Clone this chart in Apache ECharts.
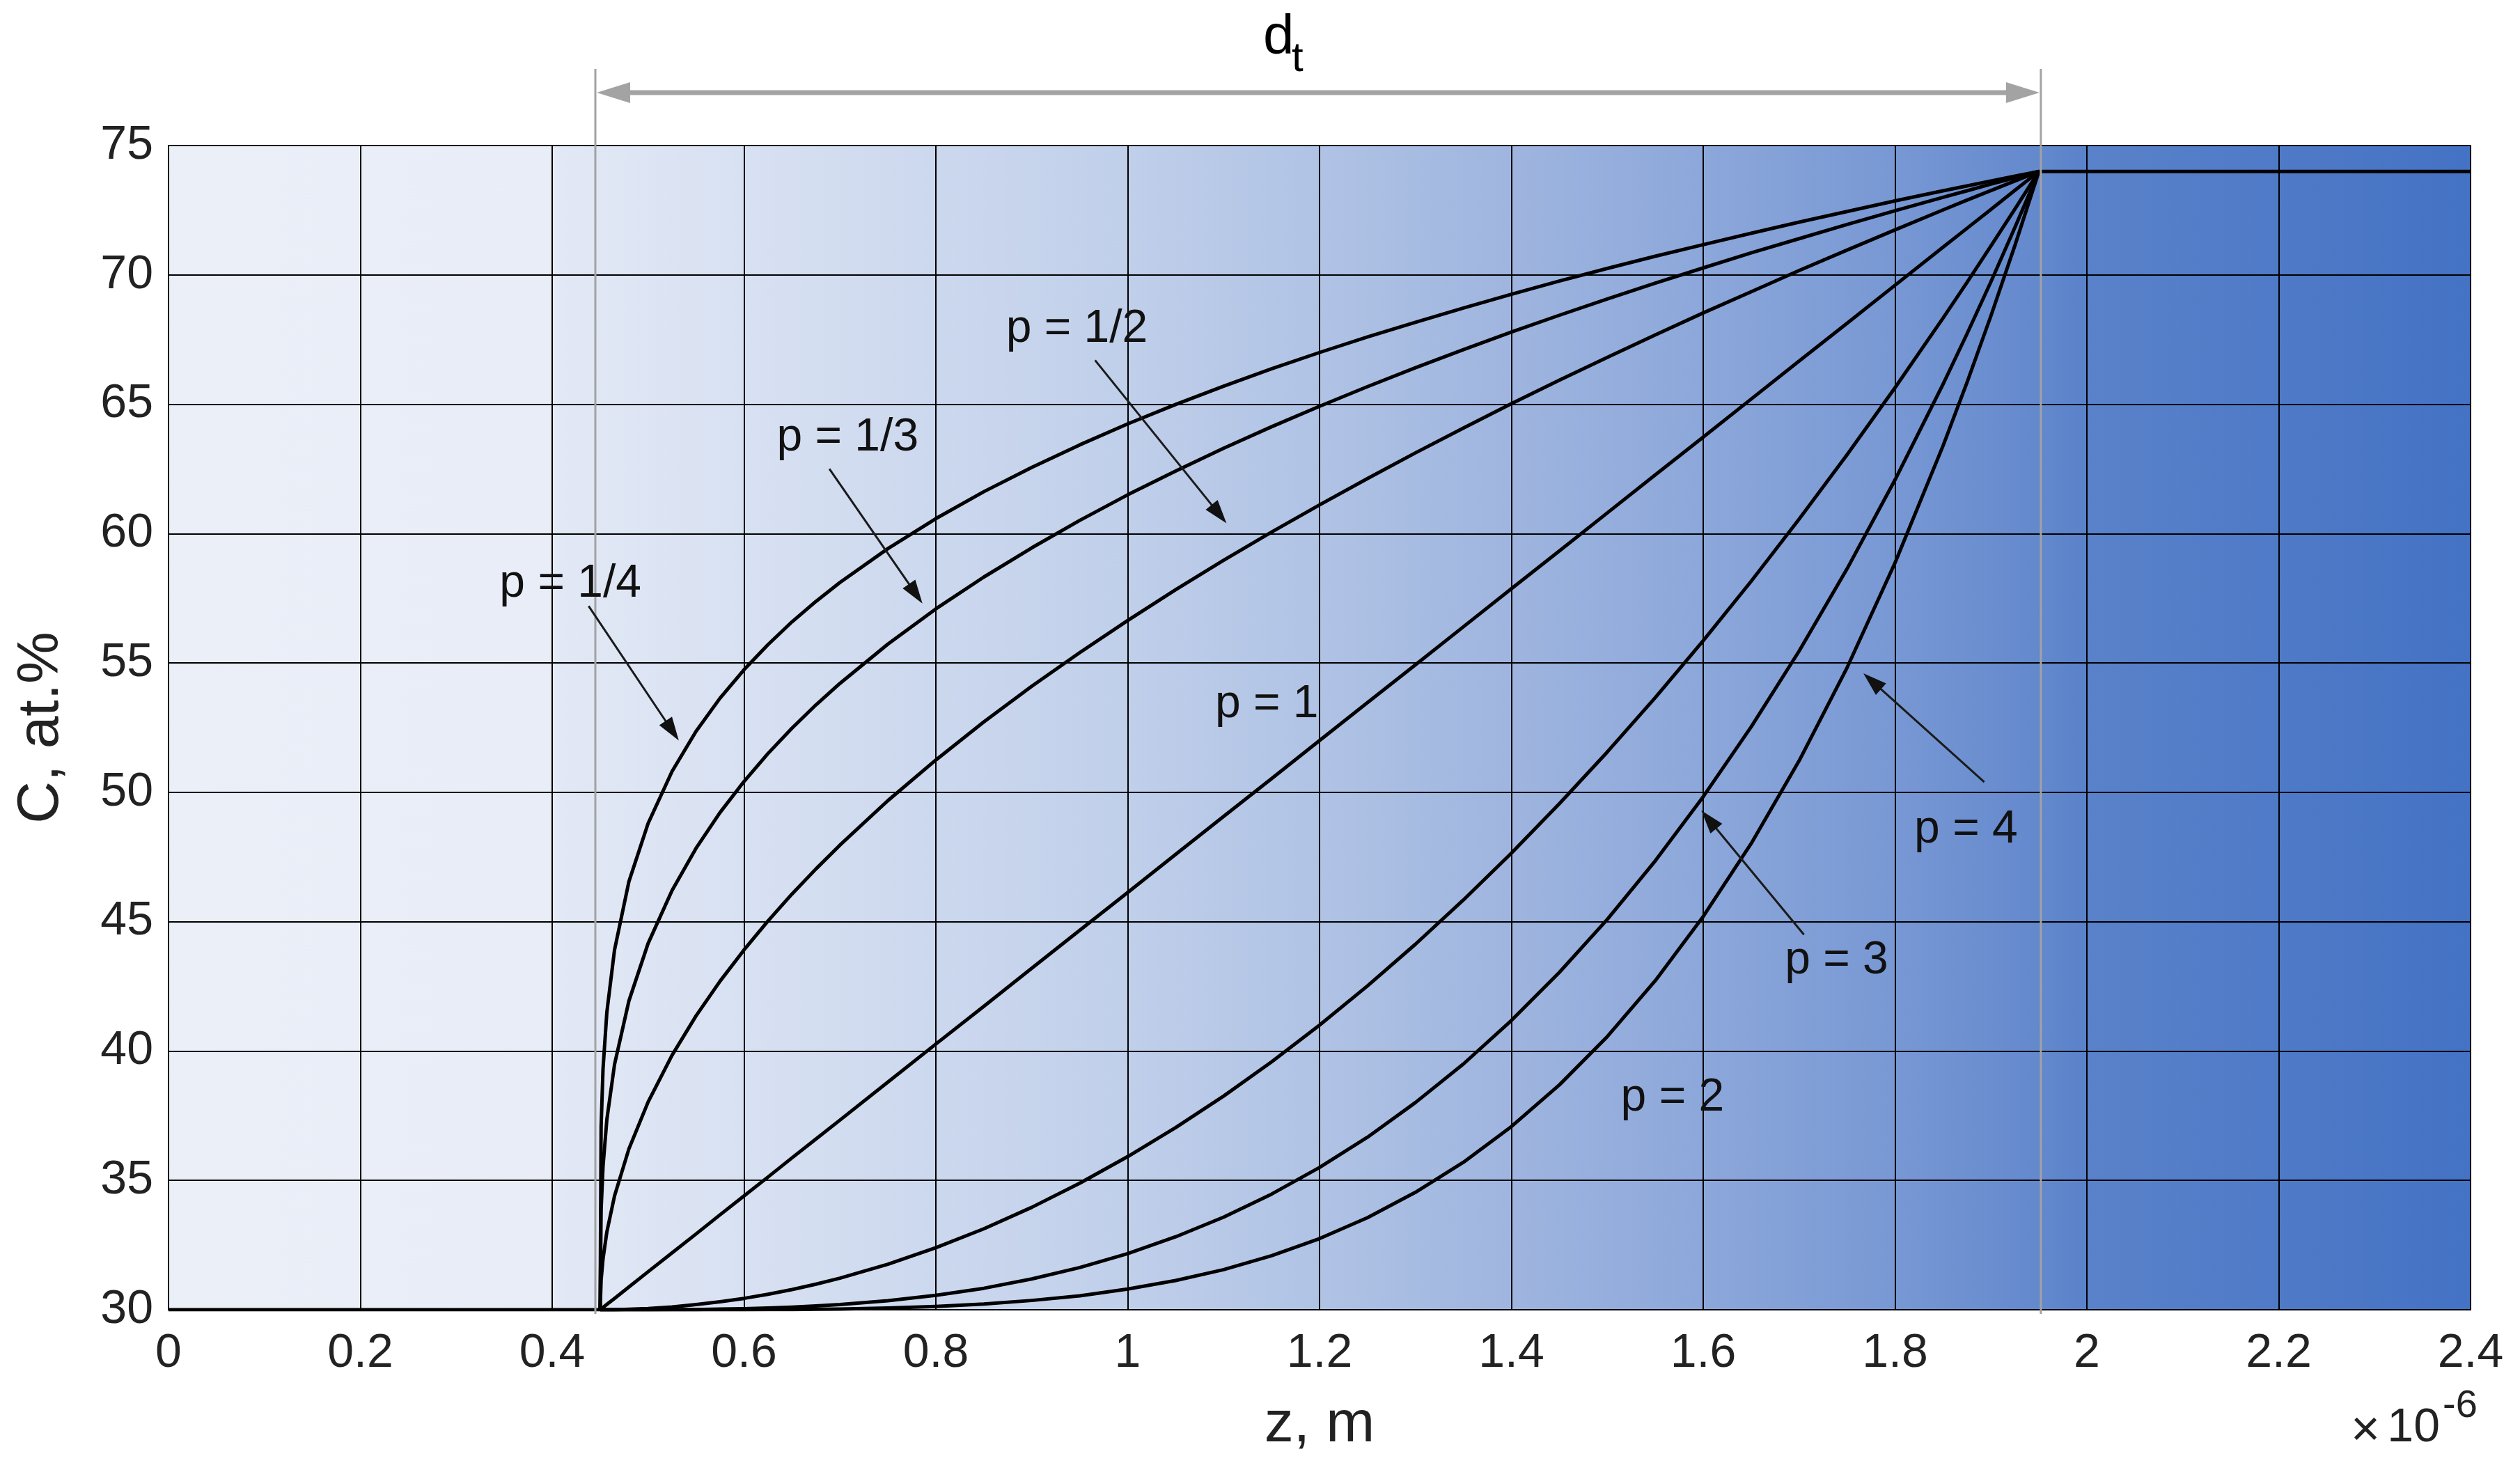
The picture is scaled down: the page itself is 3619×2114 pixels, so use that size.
<!DOCTYPE html>
<html>
<head>
<meta charset="utf-8">
<script src="https://cdn.jsdelivr.net/npm/echarts@6/dist/echarts.min.js"></script>
<style>
  html, body { margin: 0; padding: 0; background: #fff; }
  #chart { width: 3619px; height: 2114px; }
</style>
</head>
<body>
<div id="chart"></div>
<script>
const zSamples = [0.45, 0.451, 0.453, 0.457, 0.465, 0.48, 0.5, 0.525, 0.55, 0.575, 0.6, 0.625, 0.65, 0.675, 0.7,
  0.75, 0.8, 0.85, 0.9, 0.95, 1.0, 1.05, 1.1, 1.15, 1.2, 1.25, 1.3, 1.35, 1.4, 1.45, 1.5, 1.55, 1.6, 1.65, 1.7,
  1.75, 1.8, 1.85, 1.875, 1.9, 1.925, 1.95];

// C, at.% for each exponent p
const cP14 = [30, 37.07, 39.31, 41.50, 43.91, 46.55, 48.80, 50.81, 52.36, 53.64, 54.74, 55.71, 56.59, 57.38, 58.11,
  59.42, 60.58, 61.62, 62.56, 63.43, 64.24, 64.99, 65.70, 66.37, 67.00, 67.60, 68.17, 68.72, 69.25, 69.76, 70.25,
  70.72, 71.17, 71.61, 72.04, 72.45, 72.86, 73.25, 73.44, 73.63, 73.82, 74];
const cP13 = [30, 33.85, 35.54, 37.35, 39.48, 41.94, 44.16, 46.21, 47.84, 49.22, 50.42, 51.50, 52.48, 53.38, 54.21,
  55.73, 57.09, 58.32, 59.45, 60.51, 61.50, 62.42, 63.30, 64.13, 64.92, 65.68, 66.41, 67.11, 67.79, 68.44, 69.07,
  69.68, 70.27, 70.85, 71.40, 71.95, 72.48, 73.00, 73.25, 73.51, 73.75, 74];
const cP12 = [30, 31.14, 31.97, 33.01, 34.40, 36.22, 38.03, 39.84, 41.36, 42.70, 43.91, 45.03, 46.07, 47.04, 47.96,
  49.68, 51.25, 52.72, 54.10, 55.40, 56.64, 57.83, 58.97, 60.06, 61.11, 62.13, 63.12, 64.08, 65.02, 65.93, 66.81,
  67.68, 68.53, 69.35, 70.17, 70.96, 71.74, 72.51, 72.89, 73.26, 73.63, 74];
const cP1 = [30, 30.03, 30.09, 30.21, 30.44, 30.88, 31.47, 32.20, 32.93, 33.67, 34.40, 35.13, 35.87, 36.60, 37.33,
  38.80, 40.27, 41.73, 43.20, 44.67, 46.13, 47.60, 49.07, 50.53, 52.00, 53.47, 54.93, 56.40, 57.87, 59.33, 60.80,
  62.27, 63.73, 65.20, 66.67, 68.13, 69.60, 71.07, 71.80, 72.53, 73.27, 74];
const cP2 = [30, 30, 30, 30, 30, 30.02, 30.05, 30.11, 30.20, 30.31, 30.44, 30.60, 30.78, 30.99, 31.22,
  31.76, 32.40, 33.13, 33.96, 34.89, 35.92, 37.04, 38.26, 39.58, 41.00, 42.52, 44.13, 45.84, 47.65, 49.56, 51.56,
  53.66, 55.86, 58.16, 60.56, 63.05, 65.64, 68.33, 69.71, 71.12, 72.55, 74];
const cP3 = [30, 30, 30, 30, 30, 30, 30, 30.01, 30.01, 30.03, 30.04, 30.07, 30.10, 30.15, 30.20,
  30.35, 30.56, 30.83, 31.19, 31.63, 32.17, 32.82, 33.58, 34.47, 35.50, 36.67, 38.01, 39.50, 41.18, 43.04, 45.09,
  47.35, 49.83, 52.53, 55.46, 58.64, 62.08, 65.77, 67.72, 69.74, 71.84, 74];
const cP4 = [30, 30, 30, 30, 30, 30, 30, 30, 30, 30.00, 30.00, 30.01, 30.01, 30.02, 30.03,
  30.07, 30.13, 30.22, 30.36, 30.54, 30.80, 31.13, 31.55, 32.09, 32.75, 33.56, 34.54, 35.70, 37.08, 38.69, 40.56,
  42.72, 45.20, 48.02, 51.22, 54.82, 58.87, 63.39, 65.84, 68.42, 71.14, 74];

// flat parts: substrate before the layer, coating after it
const substrateZ = [0, 0.45];
const substrateC = [30, 30];
const coatingZ = [1.95, 2.4];
const coatingC = [74, 74];

// layer thickness d_t marks
const dtStart = 0.445;
const dtEnd = 1.952;

const labelText = ['p = 1/4', 'p = 1/3', 'p = 1/2', 'p = 1', 'p = 2', 'p = 3', 'p = 4'];
// text centre, arrow tail and arrow tip in data units
const labelAt = [[0.419, 58.05], [0.708, 63.7], [0.947, 67.9], [1.145, 53.4], [1.568, 38.2], [1.739, 43.5], [1.874, 48.55]];
const arrowFrom = [[0.438, 57.2], [0.689, 62.5], [0.966, 66.7], null, null, [1.705, 44.5], [1.893, 50.4]];
const arrowTo = [[0.532, 52.0], [0.786, 57.3], [1.103, 60.4], null, null, [1.598, 49.3], [1.767, 54.6]];

const font = "'Liberation Sans', Arial, Helvetica, sans-serif";
const curves = [cP14, cP13, cP12, cP1, cP2, cP3, cP4];

const chart = echarts.init(document.getElementById('chart'));

const lineStyle = { color: '#000', width: 5, join: 'round' };
const series = curves.map((ys, i) => ({
  name: labelText[i],
  type: 'line',
  data: zSamples.map((z, k) => [z, ys[k]]),
  symbol: 'none',
  smooth: false,
  lineStyle: lineStyle,
  silent: true,
  z: 5
}));
series.push({
  type: 'line', data: substrateZ.map((z, k) => [z, substrateC[k]]),
  symbol: 'none', lineStyle: lineStyle, silent: true, z: 5
});
series.push({
  type: 'line', data: coatingZ.map((z, k) => [z, coatingC[k]]),
  symbol: 'none', lineStyle: lineStyle, silent: true, z: 5
});

const option = {
  animation: false,
  backgroundColor: '#fff',
  grid: {
    left: 242, top: 209, right: 71, bottom: 233,
    show: true,
    borderColor: '#000',
    borderWidth: 2,
    backgroundColor: new echarts.graphic.LinearGradient(0, 0, 1, 0, [
      { offset: 0, color: '#eaeff8' },
      { offset: 0.166, color: '#e8edf7' },
      { offset: 0.17, color: '#e2e8f5' },
      { offset: 0.25, color: '#d8e1f2' },
      { offset: 0.417, color: '#c0cfea' },
      { offset: 0.5, color: '#b0c3e5' },
      { offset: 0.583, color: '#9fb5df' },
      { offset: 0.667, color: '#8ca7da' },
      { offset: 0.75, color: '#7898d4' },
      { offset: 0.81, color: '#6489cd' },
      { offset: 0.833, color: '#5a82ca' },
      { offset: 1, color: '#4472c4' }
    ])
  },
  xAxis: {
    type: 'value',
    min: 0, max: 2.4, interval: 0.2,
    name: 'z, m',
    nameLocation: 'middle',
    nameGap: 124,
    nameTextStyle: { fontFamily: font, fontSize: 84, color: '#222' },
    axisLine: { show: true, lineStyle: { color: '#000', width: 2 } },
    axisTick: { show: false },
    splitLine: { show: true, lineStyle: { color: '#000', width: 2 } },
    axisLabel: { fontFamily: font, fontSize: 68, color: '#222', margin: 29, showMinLabel: true, showMaxLabel: true }
  },
  yAxis: {
    type: 'value',
    min: 30, max: 75, interval: 5,
    name: 'C, at.%',
    nameLocation: 'middle',
    nameGap: 140,
    nameRotate: 90,
    nameTextStyle: { fontFamily: font, fontSize: 84, color: '#222' },
    axisLine: { show: true, lineStyle: { color: '#000', width: 2 } },
    axisTick: { show: false },
    splitLine: { show: true, lineStyle: { color: '#000', width: 2 } },
    axisLabel: { fontFamily: font, fontSize: 68, color: '#222', margin: 22 }
  },
  series: series
};

chart.setOption(option);

// overlay: d_t dimension arrow, annotations, axis multiplier
const px = p => chart.convertToPixel({ gridIndex: 0 }, p);

function head(tip, tail, len, half) {
  const dx = tip[0] - tail[0], dy = tip[1] - tail[1];
  const d = Math.sqrt(dx * dx + dy * dy);
  const ux = dx / d, uy = dy / d;
  const bx = tip[0] - ux * len, by = tip[1] - uy * len;
  return [[tip[0], tip[1]], [bx - uy * half, by + ux * half], [bx + uy * half, by - ux * half]];
}

const gfx = [];
const gray = '#a3a3a3';
const xa = px([dtStart, 30])[0];
const xb = px([dtEnd, 30])[0];
const arrowY = 133;
[xa, xb].forEach(x => {
  gfx.push({ type: 'line', z: 50, shape: { x1: x, y1: 99, x2: x, y2: 1887 }, style: { stroke: gray, lineWidth: 3 } });
});
gfx.push({ type: 'line', z: 50, shape: { x1: xa + 40, y1: arrowY, x2: xb - 40, y2: arrowY }, style: { stroke: gray, lineWidth: 7 } });
gfx.push({ type: 'polygon', z: 50, shape: { points: head([xa + 2, arrowY], [xb, arrowY], 48, 15) }, style: { fill: gray } });
gfx.push({ type: 'polygon', z: 50, shape: { points: head([xb - 2, arrowY], [xa, arrowY], 48, 15) }, style: { fill: gray } });
gfx.push({ type: 'text', z: 50, x: 1814, y: 55, style: { text: 'd', font: '80px ' + font, fill: '#000', align: 'left', verticalAlign: 'middle' } });
gfx.push({ type: 'text', z: 50, x: 1855, y: 85, style: { text: 't', font: '60px ' + font, fill: '#000', align: 'left', verticalAlign: 'middle' } });

labelText.forEach((t, i) => {
  const c = px(labelAt[i]);
  gfx.push({ type: 'text', z: 60, x: c[0], y: c[1], style: { text: t, font: '66px ' + font, fill: '#111', align: 'center', verticalAlign: 'middle' } });
  if (arrowFrom[i]) {
    const a = px(arrowFrom[i]);
    const b = px(arrowTo[i]);
    const h = head(b, a, 34, 11);
    const dx = b[0] - a[0], dy = b[1] - a[1], d = Math.sqrt(dx * dx + dy * dy);
    gfx.push({ type: 'line', z: 60, shape: { x1: a[0], y1: a[1], x2: b[0] - dx / d * 20, y2: b[1] - dy / d * 20 }, style: { stroke: '#1a1a1a', lineWidth: 3 } });
    gfx.push({ type: 'polygon', z: 60, shape: { points: h }, style: { fill: '#111' } });
  }
});

// x10^-6 multiplier under the right end of the axis
const r = px([2.4, 30]);
gfx.push({ type: 'text', z: 50, x: r[0] - 130, y: 2056, style: { text: '×', font: '72px ' + font, fill: '#222', align: 'right', verticalAlign: 'middle' } });
gfx.push({ type: 'text', z: 50, x: r[0] - 44, y: 2051, style: { text: '10', font: '68px ' + font, fill: '#222', align: 'right', verticalAlign: 'middle' } });
gfx.push({ type: 'text', z: 50, x: r[0] - 40, y: 2020, style: { text: '-6', font: '56px ' + font, fill: '#222', align: 'left', verticalAlign: 'middle' } });

chart.setOption({ graphic: { elements: gfx } });
</script>
</body>
</html>
